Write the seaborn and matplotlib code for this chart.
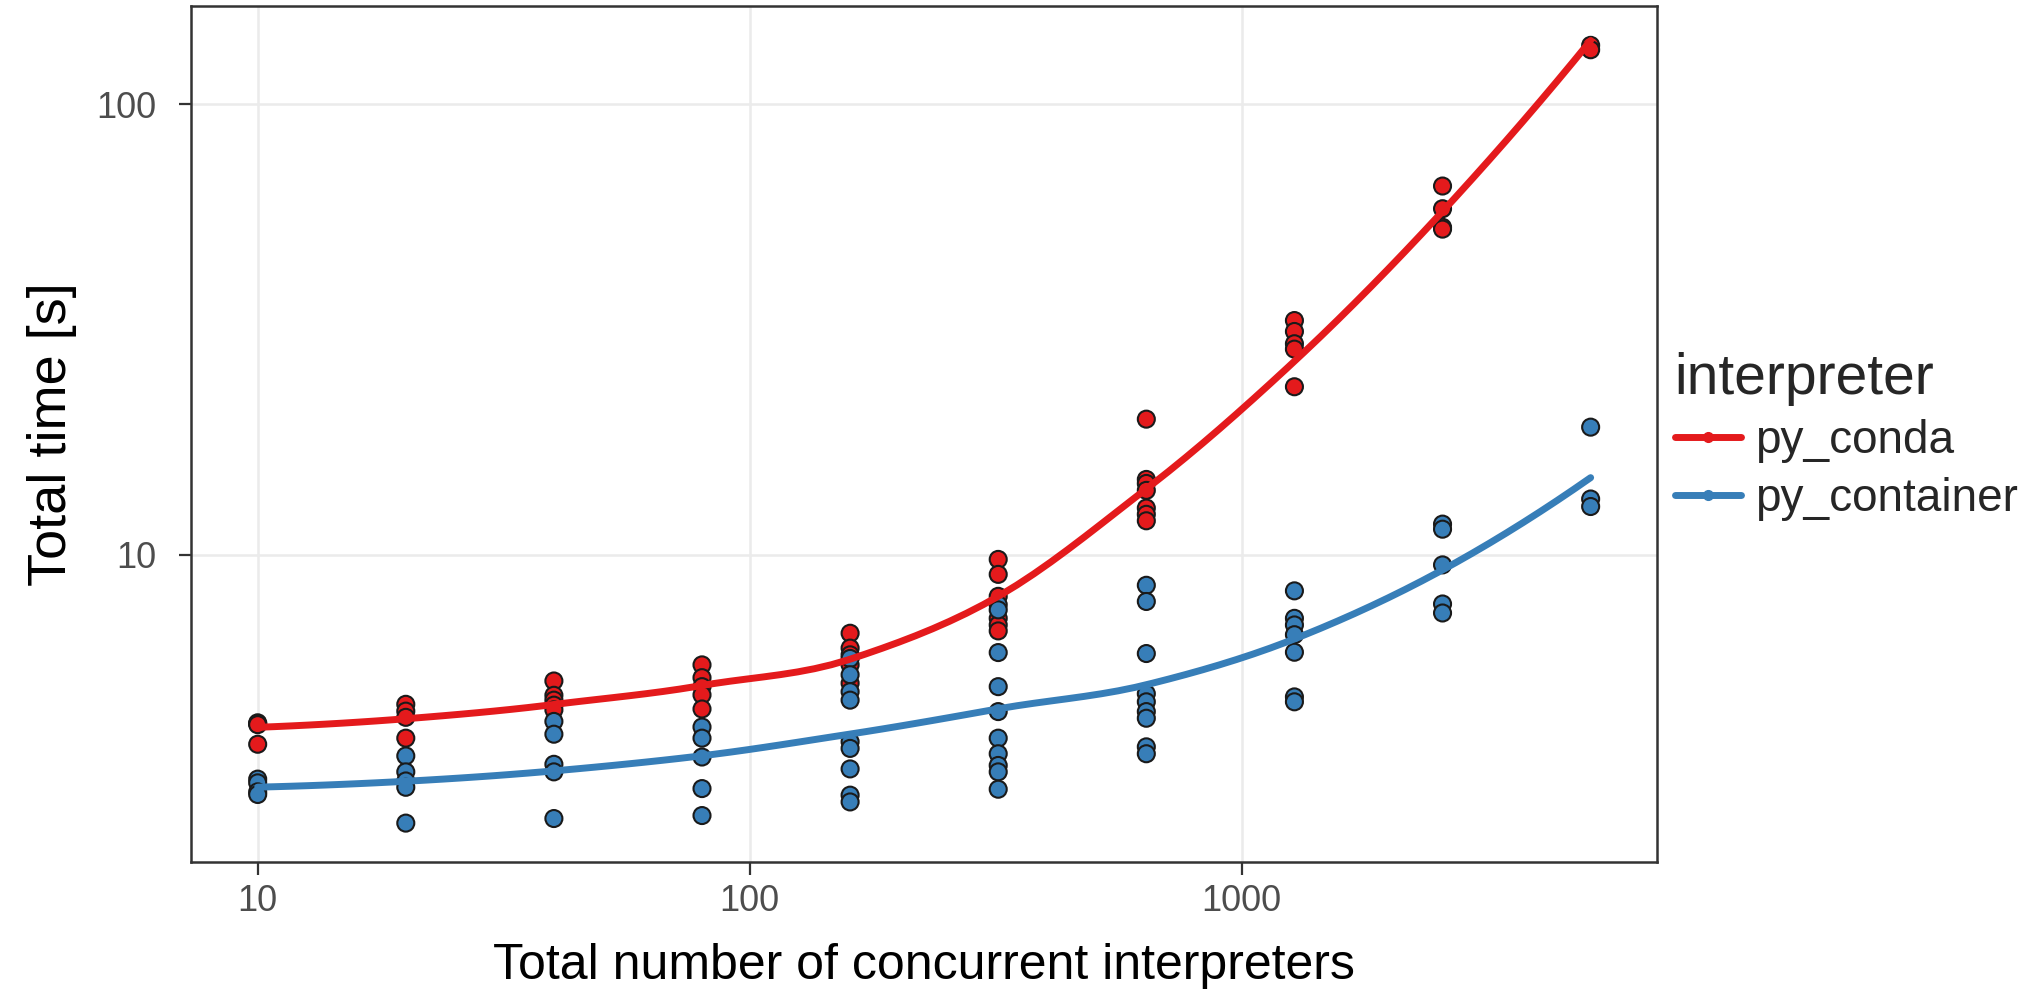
import numpy as np
import pandas as pd
import matplotlib
matplotlib.use("Agg")
import matplotlib.pyplot as plt
import seaborn as sns
from matplotlib.lines import Line2D
from matplotlib.ticker import FixedLocator, FixedFormatter, NullLocator

# number of concurrent interpreters (x) and measured total times [s]
n_interp = [10, 20, 40, 80, 160, 320, 640, 1280, 2560, 5120]

conda_times = [
    [4.24, 4.22, 4.20, 3.80],
    [4.66, 4.50, 4.36, 3.92],
    [5.25, 4.88, 4.76, 4.64, 4.53],
    [5.70, 5.34, 5.10, 4.89, 4.55],
    [6.70, 6.21, 6.00, 5.70, 5.19],
    [9.77, 9.05, 8.09, 7.23, 6.99, 6.78],
    [20.0, 14.7, 14.4, 13.9, 12.7, 12.3, 11.9],
    [33.1, 31.3, 29.4, 28.6, 23.6],
    [65.8, 58.6, 53.3, 52.8],
    [135.0, 132.0],
]

container_times = [
    [3.18, 3.12, 2.98, 2.94],
    [3.58, 3.30, 3.15, 3.05, 2.54],
    [4.27, 4.00, 3.43, 3.30, 2.60],
    [4.15, 3.92, 3.56, 3.03, 2.64],
    [5.89, 5.42, 4.97, 4.76, 3.85, 3.72, 3.35, 2.93, 2.83],
    [7.75, 7.55, 6.07, 5.10, 4.49, 3.92, 3.62, 3.41, 3.30, 3.02],
    [8.56, 7.88, 6.04, 4.92, 4.72, 4.49, 4.34, 3.75, 3.62],
    [8.32, 7.23, 6.99, 6.65, 6.08, 4.84, 4.72],
    [11.7, 11.4, 9.5, 7.78, 7.43],
    [19.2, 13.3, 12.8],
]

groups = ["py_conda", "py_container"]
palette = {"py_conda": "#E41A1C", "py_container": "#377EB8"}

rows = []
for name, times in zip(groups, [conda_times, container_times]):
    for n, ts in zip(n_interp, times):
        for t in ts:
            rows.append({"n": n, "time": t, "interpreter": name})
df = pd.DataFrame(rows)


# local quadratic fit (tricube weights, span 0.75) -> value and slope at g
def local_fit(x, y, g, span=0.75):
    q = int(np.floor(len(x) * span))
    d = np.abs(x - g)
    h = np.sort(d)[q - 1]
    w = np.clip(1 - (d / h) ** 3, 0, None) ** 3
    X = np.vstack([np.ones_like(x), x - g, (x - g) ** 2]).T
    sw = np.sqrt(w)
    beta = np.linalg.lstsq(X * sw[:, None], y * sw, rcond=None)[0]
    return beta[0], beta[1]


# loess like R: fit at vertices, cubic Hermite interpolation in between
def loess(x, y, grid):
    verts = np.unique(x)
    fs = np.array([local_fit(x, y, v) for v in verts])
    out = []
    for g in grid:
        i = min(np.searchsorted(verts, g, side="right") - 1, len(verts) - 2)
        h = verts[i + 1] - verts[i]
        t = (g - verts[i]) / h
        h00 = 2 * t**3 - 3 * t**2 + 1
        h10 = t**3 - 2 * t**2 + t
        h01 = -2 * t**3 + 3 * t**2
        h11 = t**3 - t**2
        out.append(h00 * fs[i, 0] + h10 * h * fs[i, 1] + h01 * fs[i + 1, 0] + h11 * h * fs[i + 1, 1])
    return np.array(out)


fits = []
for name in groups:
    sub = df[df["interpreter"] == name]
    lx = np.log10(sub["n"].values.astype(float))
    ly = np.log10(sub["time"].values)
    grid = np.linspace(lx.min(), lx.max(), 80)
    fits.append(pd.DataFrame({"n": 10 ** grid, "time": 10 ** loess(lx, ly, grid),
                              "interpreter": name}))
fit_df = pd.concat(fits)

sns.set_style("white")
plt.rcParams["font.family"] = ["Liberation Sans", "DejaVu Sans"]

fig, ax = plt.subplots(figsize=(20.41, 9.94), dpi=100)
fig.subplots_adjust(left=0.0936, right=0.812, top=0.9935, bottom=0.1328)

sns.scatterplot(data=df, x="n", y="time", hue="interpreter", palette=palette,
                s=150, edgecolor="#1a1a1a", linewidth=1.5, legend=False, ax=ax, zorder=3)
sns.lineplot(data=fit_df, x="n", y="time", hue="interpreter", palette=palette,
             linewidth=5, legend=False, ax=ax, zorder=4)

ax.set_xscale("log")
ax.set_yscale("log")

# ggplot-like 5% expansion in log space
lx = np.log10(df["n"].values.astype(float))
ly = np.log10(df["time"].values)
px = 0.05 * (lx.max() - lx.min())
py = 0.05 * (ly.max() - ly.min())
ax.set_xlim(10 ** (lx.min() - px), 10 ** (lx.max() + px))
ax.set_ylim(10 ** (ly.min() - py), 10 ** (ly.max() + py))

ax.xaxis.set_major_locator(FixedLocator([10, 100, 1000]))
ax.xaxis.set_major_formatter(FixedFormatter(["10", "100", "1000"]))
ax.yaxis.set_major_locator(FixedLocator([10, 100]))
ax.yaxis.set_major_formatter(FixedFormatter(["10", "100"]))
ax.xaxis.set_minor_locator(NullLocator())
ax.yaxis.set_minor_locator(NullLocator())

ax.grid(True, which="major", color="#EBEBEB", linewidth=1.8)
ax.set_axisbelow(True)
for sp in ax.spines.values():
    sp.set_color("#333333")
    sp.set_linewidth(1.8)
ax.tick_params(axis="both", which="major", direction="out", length=9, width=1.6,
               color="#333333", labelcolor="#4D4D4D", labelsize=26,
               bottom=True, left=True)
ax.tick_params(axis="x", pad=7)
ax.tick_params(axis="y", pad=16)

ax.set_xlabel("Total number of concurrent interpreters", fontsize=36, color="black", labelpad=17)
ax.set_ylabel("Total time [s]", fontsize=39, color="black", labelpad=14)

handles = [Line2D([0], [0], color=palette[g], lw=5, marker="o", markersize=7) for g in groups]
leg = fig.legend(handles, groups, title="interpreter", loc="center left",
                 bbox_to_anchor=(0.8115, 0.561), frameon=False, fontsize=33,
                 title_fontsize=41, handlelength=1.45, handletextpad=0.3,
                 labelspacing=0.3, alignment="left", borderaxespad=0)

fig.savefig("out.png", dpi=100, facecolor="white")
